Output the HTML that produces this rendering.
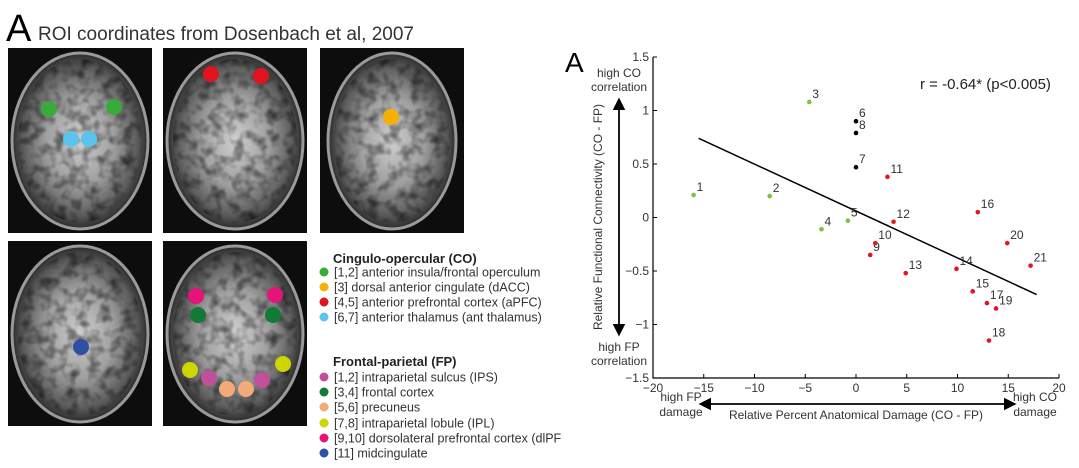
<!DOCTYPE html>
<html><head><meta charset="utf-8"><style>
body{margin:0;background:#fff;width:1079px;height:468px;overflow:hidden;font-family:"Liberation Sans",sans-serif}
svg{display:block}
text{font-family:"Liberation Sans",sans-serif}
</style></head><body>
<svg id="fig" width="1079" height="468" viewBox="0 0 1079 468">
<defs>
<radialGradient id="brain" cx="50%" cy="50%" r="50%">
<stop offset="0%" stop-color="#cfcfcf"/><stop offset="50%" stop-color="#a0a0a0"/><stop offset="85%" stop-color="#5a5a5a"/><stop offset="100%" stop-color="#2a2a2a"/>
</radialGradient>
<filter id="tex" x="0" y="0" width="100%" height="100%">
<feTurbulence type="fractalNoise" baseFrequency="0.09" numOctaves="2" seed="3" result="n"/>
<feColorMatrix in="n" type="matrix" values="0 0 0 0 0  0 0 0 0 0  0 0 0 0 0  0 0 0 -2.2 1.3" result="m"/>
<feComposite in="m" in2="SourceGraphic" operator="in"/>
</filter>
<clipPath id="leftclip"><rect x="0" y="0" width="562" height="468"/></clipPath>
<marker id="ah" viewBox="0 0 10 10" refX="8" refY="5" markerWidth="7" markerHeight="7" orient="auto-start-reverse"><path d="M0,0 L10,5 L0,10 z" fill="#000"/></marker>
</defs>
<g clip-path="url(#leftclip)">
<text x="6" y="41" font-size="38">A</text>
<text x="38" y="40" font-size="19" fill="#333">ROI coordinates from Dosenbach et al, 2007</text>
<g id="brains"></g>
<g id="legend" font-size="12.5" fill="#333"></g>
</g>
<g id="chart"></g>
</svg>
<script>
const NS="http://www.w3.org/2000/svg";
function mk(tag,attrs,parent){const e=document.createElementNS(NS,tag);for(const k in attrs)e.setAttribute(k,attrs[k]);parent.appendChild(e);return e;}
const brains=document.getElementById('brains');
const panels=[[8,48],[163,48],[320,48],[8,241],[163,241]];
panels.forEach((p,i)=>{
  const g=mk('g',{},brains);
  
  
  mk('rect',{x:p[0],y:p[1],width:144,height:185,fill:'#0d0d0d'},g);
  const rx=i==2?64:68;
  mk('ellipse',{cx:p[0]+72,cy:p[1]+93,rx:rx,ry:88,fill:'url(#brain)',stroke:'#9a9a9a','stroke-width':3},g);
  mk('ellipse',{cx:p[0]+72,cy:p[1]+93,rx:rx-6,ry:82,fill:'#000',opacity:0.55,filter:'url(#tex)'},g);
});
const dots=[[49,109,'#3aab3a'],[114,107,'#3aab3a'],[71,139,'#5bc4ee'],[89,139,'#5bc4ee'],[211,74,'#e0141e'],[261,76,'#e0141e'],[391,117,'#f5b000'],[81,347,'#2e4fa3'],[196,296,'#e6147a'],[275,295,'#e6147a'],[198,315,'#127a35'],[273,315,'#127a35'],[190,370,'#cdd600'],[283,364,'#cdd600'],[209,378,'#c04f9c'],[262,380,'#c04f9c'],[227,389,'#f4a97a'],[246,389,'#f4a97a']];
dots.forEach(d=>{const c=mk('circle',{cx:d[0],cy:d[1],r:8,fill:d[2]},brains);

});
const leg=document.getElementById('legend');
const legItems=[['h','Cingulo-opercular (CO)',258],['#3aab3a','[1,2] anterior insula/frontal operculum',272],['#f5b000','[3] dorsal anterior cingulate (dACC)',287],['#e0141e','[4,5] anterior prefrontal cortex (aPFC)',302],['#5bc4ee','[6,7] anterior thalamus (ant thalamus)',317],
['h','Frontal-parietal (FP)',361],['#c04f9c','[1,2] intraparietal sulcus (IPS)',377],['#127a35','[3,4] frontal cortex',392],['#f4a97a','[5,6] precuneus',407],['#cdd600','[7,8] intraparietal lobule (IPL)',423],['#e6147a','[9,10] dorsolateral prefrontal cortex (dlPFC)',438],['#2e4fa3','[11] midcingulate',453]];
legItems.forEach(it=>{
  if(it[0]==='h'){const t=mk('text',{x:333,y:it[2]+5,'font-weight':'bold','font-size':13,fill:'#222'},leg);t.textContent=it[1];
  
  }
  else{const c=mk('circle',{cx:324,cy:it[2],r:4.5,fill:it[0]},leg);
  
  
  const t=mk('text',{x:334,y:it[2]+4.5},leg);t.textContent=it[1];
  
  }
});

const labels=['1','2','3','4','5','6','7','8','9','10','11','12','13','14','15','16','17','18','19','20','21'];
const xVals=[-16.0,-8.5,-4.6,-3.4,-0.8,0,0,0,1.4,1.9,3.1,3.7,4.9,9.9,11.5,12.0,12.9,13.1,13.8,14.9,17.2];
const yVals=[0.21,0.20,1.08,-0.11,-0.03,0.90,0.47,0.79,-0.35,-0.24,0.38,-0.04,-0.52,-0.48,-0.69,0.05,-0.80,-1.15,-0.85,-0.24,-0.45];
const groups=['g','g','g','g','g','k','k','k','r','r','r','r','r','r','r','r','r','r','r','r','r'];
const fitX=[-15.5,17.8];
const fitY=[0.74,-0.72];
const xTicks=[-20,-15,-10,-5,0,5,10,15,20];
const yTicks=[1.5,1,0.5,0,-0.5,-1,-1.5];
const L=653,R=1059,T=57,B=378;
const sx=v=>L+(v+20)/40*(R-L);
const sy=v=>B-(v+1.5)/3*(B-T);
const ch=document.getElementById('chart');
const colors={g:'#7fc23a',k:'#000',r:'#e8141c'};
function txt(x,y,s,attrs,name){const t=mk('text',Object.assign({x:x,y:y,'font-size':12,fill:'#333'},attrs||{}),ch);t.textContent=s;

return t;}
txt(565,72,'A',{'font-size':28,fill:'#000'},'panel-letter-right');
const ax=mk('path',{d:`M${L},${T} L${L},${B} L${R},${B}`,stroke:'#000','stroke-width':1.2,fill:'none'},ch);


xTicks.forEach(v=>{mk('line',{x1:sx(v),x2:sx(v),y1:B,y2:B-4,stroke:'#000'},ch);
txt(sx(v),392,v<0?'\u2212'+(-v):String(v),{'text-anchor':'middle'},'x-tick-label');});
yTicks.forEach(v=>{mk('line',{x1:L,x2:L+4,y1:sy(v),y2:sy(v),stroke:'#000'},ch);
txt(L-4,sy(v)+4,v<0?'\u2212'+(-v):String(v),{'text-anchor':'end'},'y-tick-label');});
const fl=mk('line',{x1:sx(fitX[0]),y1:sy(fitY[0]),x2:sx(fitX[1]),y2:sy(fitY[1]),stroke:'#000','stroke-width':1.5},ch);


xVals.forEach((v,i)=>{
  const c=mk('circle',{cx:sx(v),cy:sy(yVals[i]),r:2.3,fill:colors[groups[i]]},ch);
  
  
  txt(sx(v)+3,sy(yVals[i])-4,labels[i],{'font-size':12},'point-label');
});
txt(920,89,'r = -0.64* (p<0.005)',{'font-size':15,fill:'#222'},'correlation-text');
txt(602,217,'Relative Functional Connectivity (CO - FP)',{'text-anchor':'middle',transform:'rotate(-90 602 217)'},'y-axis-title');
txt(619,77,'high CO',{'text-anchor':'middle'},'y-high-co-label');
txt(619,91,'correlation',{'text-anchor':'middle'},'y-high-co-label');
txt(619,351,'high FP',{'text-anchor':'middle'},'y-high-fp-label');
txt(619,365,'correlation',{'text-anchor':'middle'},'y-high-fp-label');
const va=mk('line',{x1:619,y1:100,x2:619,y2:334,stroke:'#000','stroke-width':1.8,'marker-start':'url(#ah)','marker-end':'url(#ah)'},ch);


const ha=mk('line',{x1:701,y1:404,x2:1014,y2:404,stroke:'#000','stroke-width':1.8,'marker-start':'url(#ah)','marker-end':'url(#ah)'},ch);


txt(681,401,'high FP',{'text-anchor':'middle'},'x-high-fp-label');
txt(681,416,'damage',{'text-anchor':'middle'},'x-high-fp-label');
txt(1035,401,'high CO',{'text-anchor':'middle'},'x-high-co-label');
txt(1035,416,'damage',{'text-anchor':'middle'},'x-high-co-label');
txt(856,419,'Relative Percent Anatomical Damage (CO - FP)',{'text-anchor':'middle'},'x-axis-title');
</script>
</body></html>
